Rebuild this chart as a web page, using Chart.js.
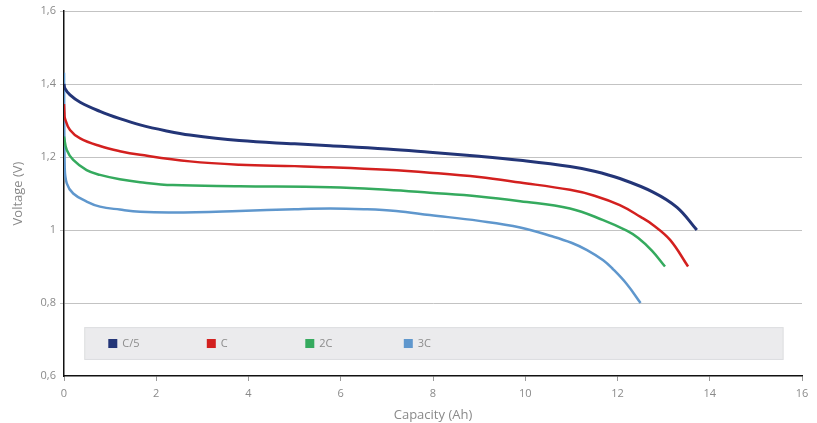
<!DOCTYPE html>
<html>
<head>
<meta charset="utf-8">
<script src="https://cdn.jsdelivr.net/npm/chart.js@4.4.1/dist/chart.umd.min.js"></script>
<style>
  html, body { margin: 0; padding: 0; background: #fff; }
  #wrap { width: 817px; height: 423px; }
</style>
</head>
<body>
<div id="wrap"><canvas id="dischargeChart"></canvas></div>
<script>
// Discharge curves
const seriesNames = ['C/5', 'C', '2C', '3C'];
const seriesColors = ['#233577', '#d3201f', '#35aa5e', '#5f97cd'];

const capC5 = [0, 0.02, 0.13, 0.35, 0.78, 1.21, 1.65, 2.2, 2.73, 3.8, 5, 5.77, 7, 7.93, 9, 9.89, 10.97, 11.5, 12.05, 12.77, 13.29, 13.72];
const voltC5 = [1.40, 1.388, 1.370, 1.350, 1.325, 1.305, 1.288, 1.272, 1.260, 1.245, 1.236, 1.231, 1.222, 1.213, 1.202, 1.191, 1.174, 1.161, 1.141, 1.104, 1.062, 1.0];

const capC = [0, 0.01, 0.02, 0.13, 0.35, 0.78, 1.21, 1.65, 2.73, 3.8, 5, 5.77, 7, 7.93, 9, 9.89, 10.97, 11.5, 12.05, 12.5, 12.77, 13.14, 13.53];
const voltC = [1.345, 1.32, 1.306, 1.274, 1.251, 1.230, 1.216, 1.206, 1.188, 1.179, 1.175, 1.172, 1.165, 1.157, 1.145, 1.130, 1.110, 1.094, 1.068, 1.036, 1.014, 0.973, 0.90];

const capC2 = [0, 0.06, 0.2, 0.49, 0.78, 1.21, 1.65, 2.36, 3.8, 5.77, 7, 7.93, 9, 9.89, 10.97, 11.69, 12.2, 12.45, 12.75, 13.03];
const voltC2 = [1.256, 1.219, 1.192, 1.164, 1.151, 1.139, 1.131, 1.123, 1.120, 1.117, 1.110, 1.102, 1.092, 1.079, 1.059, 1.027, 0.998, 0.978, 0.943, 0.90];

const capC3 = [0, 0.015, 0.06, 0.2, 0.49, 0.78, 1.21, 1.65, 2.36, 3.8, 5, 5.77, 6.5, 7.2, 7.93, 9, 9.89, 10.6, 11.0, 11.34, 11.69, 11.9, 12.2, 12.5];
const voltC3 = [1.431, 1.173, 1.128, 1.100, 1.078, 1.064, 1.056, 1.050, 1.048, 1.052, 1.057, 1.059, 1.057, 1.052, 1.041, 1.025, 1.007, 0.982, 0.965, 0.945, 0.917, 0.893, 0.852, 0.80];

const xTicks = [0, 2, 4, 6, 8, 10, 12, 14, 16];
const yTicks = [0.6, 0.8, 1.0, 1.2, 1.4, 1.6];

const capacities = [capC5, capC, capC2, capC3];
const voltages = [voltC5, voltC, voltC2, voltC3];
const lineWidths = [3, 2.5, 2.5, 2.5];

function toPoints(xs, ys) {
  return xs.map((x, i) => ({x: x, y: ys[i]}));
}

function formatVolt(v) {
  return String(Math.round(v * 10) / 10).replace('.', ',');
}

// Legend in the grey box inside the plot
const boxLegend = {
  id: 'boxLegend',
  beforeDatasetsDraw(chart) {
    const ctx = chart.ctx;
    const xs = chart.scales.x;
    const ys = chart.scales.y;
    const left = xs.getPixelForValue(0.44);
    const right = xs.getPixelForValue(15.6);
    const top = ys.getPixelForValue(0.734);
    const bottom = ys.getPixelForValue(0.644);
    ctx.save();
    ctx.fillStyle = '#ebebed';
    ctx.fillRect(left, top, right - left, bottom - top);
    ctx.strokeStyle = '#dedfe1';
    ctx.lineWidth = 1;
    ctx.strokeRect(left + 0.5, top + 0.5, right - left - 1, bottom - top - 1);
    const midY = (top + bottom) / 2;
    ctx.font = "11px 'Open Sans'";
    ctx.textBaseline = 'middle';
    chart.data.datasets.forEach((ds, i) => {
      const x = left + 24 + i * 98.5;
      ctx.fillStyle = ds.borderColor;
      ctx.fillRect(x, midY - 4.5, 9, 9);
      ctx.fillStyle = '#8c8c8c';
      ctx.fillText(ds.label, x + 14, midY);
    });
    ctx.restore();
  }
};

document.addEventListener('DOMContentLoaded', function() {
  Chart.defaults.font.family = "'Open Sans', sans-serif";
  Chart.defaults.color = '#8a8a8a';

  const ctx = document.getElementById('dischargeChart');
  new Chart(ctx, {
    type: 'line',
    data: {
      datasets: seriesNames.map((name, i) => ({
        label: name,
        data: toPoints(capacities[i], voltages[i]),
        borderColor: seriesColors[i],
        backgroundColor: seriesColors[i],
        borderWidth: lineWidths[i],
        pointRadius: 0,
        tension: 0.4,
        fill: false
      }))
    },
    options: {
      responsive: true,
      maintainAspectRatio: false,
      animation: false,
      layout: {padding: {left: 0, right: 15, top: 11, bottom: 0}},
      plugins: {
        legend: {display: false},
        tooltip: {enabled: false}
      },
      scales: {
        x: {
          type: 'linear',
          min: 0,
          max: 16,
          afterBuildTicks: function(scale) {
            scale.ticks = xTicks.map(v => ({value: v}));
          },
          afterFit: function(scale) { scale.height = 47; },
          grid: {
            drawOnChartArea: false,
            drawTicks: true,
            tickLength: 5,
            color: '#9a9a9a'
          },
          border: {display: true, color: '#111', width: 1.5},
          ticks: {
            font: {size: 11},
            color: '#8a8a8a',
            padding: 6,
            maxRotation: 0
          },
          title: {
            display: true,
            text: 'Capacity (Ah)',
            font: {size: 13},
            color: '#8a8a8a',
            padding: {top: 0, bottom: 0}
          }
        },
        y: {
          type: 'linear',
          min: 0.6,
          max: 1.6,
          afterBuildTicks: function(scale) {
            scale.ticks = yTicks.map(v => ({value: v}));
          },
          afterFit: function(scale) { scale.width = 64; },
          grid: {
            color: function(c) { return c.tick && c.tick.value <= 0.6 ? 'rgba(0,0,0,0)' : '#c3c3c3'; },
            lineWidth: 1,
            drawTicks: true,
            tickLength: 4
          },
          border: {display: true, color: '#111', width: 1.5},
          ticks: {
            font: {size: 11},
            color: '#8a8a8a',
            padding: 4,
            callback: function(value) { return formatVolt(value); }
          },
          title: {
            display: true,
            text: 'Voltage (V)',
            font: {size: 13},
            color: '#8a8a8a',
            padding: {top: 10, bottom: 0}
          }
        }
      }
    },
    plugins: [boxLegend]
  });
});
</script>
</body>
</html>
